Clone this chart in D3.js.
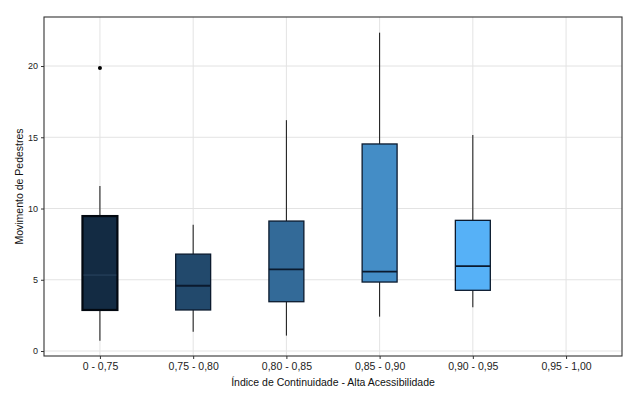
<!DOCTYPE html>
<html>
<head>
<meta charset="utf-8">
<script src="https://cdn.jsdelivr.net/npm/d3@7"></script>
<style>
  body { margin: 0; background: #fff; }
  text { font-family: "Liberation Sans", Arial, sans-serif; }
</style>
</head>
<body>
<script>
const CATEGORIES = ["0 - 0,75", "0,75 - 0,80", "0,80 - 0,85", "0,85 - 0,90", "0,90 - 0,95", "0,95 - 1,00"];
// five-number summaries per category (last one is empty)
const LOWER = [0.72, 1.35, 1.08, 2.41, 3.07];
const Q1 = [2.88, 2.88, 3.46, 4.84, 4.26];
const MEDIAN = [5.33, 4.58, 5.73, 5.57, 5.96];
const Q3 = [9.47, 6.8, 9.12, 14.53, 9.17];
const UPPER = [11.58, 8.86, 16.2, 22.34, 15.16];
const OUTLIERS = [[0, 19.86]];
const Y_TICKS = [0, 5, 10, 15, 20];

const width = 640,
  height = 399,
  margin = { left: 44, right: 18, top: 17, bottom: 43 };

const svg = d3
  .select("body")
  .append("svg")
  .attr("width", width)
  .attr("height", height);

const x = d3
  .scalePoint()
  .domain(CATEGORIES)
  .range([margin.left, width - margin.right])
  .padding(0.6);

const y = d3
  .scaleLinear()
  .domain([-0.35, 23.44])
  .range([height - margin.bottom, margin.top]);

const step = x.step();
const boxW = step * 0.375;

const fill = d3.scaleLinear()
  .domain([0, 4])
  .range(["#132B43", "#56B1F7"])
  .interpolate(d3.interpolateLab);

// grid
const grid = svg.append("g");
grid.selectAll("line.h")
  .data(Y_TICKS)
  .join("line")
  .attr("x1", margin.left)
  .attr("x2", width - margin.right)
  .attr("y1", d => y(d))
  .attr("y2", d => y(d))
  .attr("stroke", "#e3e3e3")
  .attr("stroke-width", 1);
grid.selectAll("line.v")
  .data(CATEGORIES)
  .join("line")
  .attr("x1", d => x(d))
  .attr("x2", d => x(d))
  .attr("y1", margin.top)
  .attr("y2", height - margin.bottom)
  .attr("stroke", "#e3e3e3")
  .attr("stroke-width", 1);

const boxes = CATEGORIES.slice(0, 5).map((c, i) => ({
  cat: c, i, lo: LOWER[i], q1: Q1[i], med: MEDIAN[i], q3: Q3[i], hi: UPPER[i]
}));

const g = svg.selectAll("g.box").data(boxes).join("g");

g.append("line")
  .attr("x1", d => x(d.cat))
  .attr("x2", d => x(d.cat))
  .attr("y1", d => y(d.hi))
  .attr("y2", d => y(d.q3))
  .attr("stroke", "#111");
g.append("line")
  .attr("x1", d => x(d.cat))
  .attr("x2", d => x(d.cat))
  .attr("y1", d => y(d.q1))
  .attr("y2", d => y(d.lo))
  .attr("stroke", "#111");

g.append("rect")
  .attr("x", d => x(d.cat) - boxW / 2)
  .attr("width", boxW)
  .attr("y", d => y(d.q3))
  .attr("height", d => y(d.q1) - y(d.q3))
  .attr("fill", d => fill(d.i))
  .attr("stroke", d => (d.i === 0 ? "#020810" : "#0b1a2e"))
  .attr("stroke-width", d => (d.i === 0 ? 2.2 : 1.3));

g.append("line")
  .attr("x1", d => x(d.cat) - boxW / 2 + (d.i === 0 ? 1 : 0))
  .attr("x2", d => x(d.cat) + boxW / 2 - (d.i === 0 ? 1 : 0))
  .attr("y1", d => y(d.med))
  .attr("y2", d => y(d.med))
  .attr("stroke", d => (d.i === 0 ? "#2b4562" : "#0b1a2e"))
  .attr("stroke-width", d => (d.i === 0 ? 1 : 1.8));

svg.selectAll("circle.out")
  .data(OUTLIERS)
  .join("circle")
  .attr("cx", d => x(CATEGORIES[d[0]]))
  .attr("cy", d => y(d[1]))
  .attr("r", 2)
  .attr("fill", "#000");

// panel border
svg.append("rect")
  .attr("x", margin.left)
  .attr("y", margin.top)
  .attr("width", width - margin.left - margin.right)
  .attr("height", height - margin.top - margin.bottom)
  .attr("fill", "none")
  .attr("stroke", "#333")
  .attr("stroke-width", 1.1);

const xAxis = d3.axisBottom(x).tickSize(3).tickSizeOuter(0).tickPadding(4);
svg.append("g")
  .attr("transform", `translate(0, ${height - margin.bottom})`)
  .call(xAxis)
  .call(a => a.select(".domain").remove())
  .call(a => a.selectAll(".tick line").attr("stroke", "#333"))
  .call(a => a.selectAll(".tick text").attr("fill", "#222").style("font-size", "10.5px"));

const yAxis = d3.axisLeft(y).tickValues(Y_TICKS).tickSize(3).tickSizeOuter(0).tickPadding(3);
svg.append("g")
  .attr("transform", `translate(${margin.left}, 0)`)
  .call(yAxis)
  .call(a => a.select(".domain").remove())
  .call(a => a.selectAll(".tick line").attr("stroke", "#333"))
  .call(a => a.selectAll(".tick text").attr("fill", "#222").style("font-size", "9px"));

svg.append("text")
  .attr("x", (margin.left + width - margin.right) / 2)
  .attr("y", 386)
  .attr("text-anchor", "middle")
  .style("font-size", "10.5px")
  .attr("fill", "#111")
  .text("Índice de Continuidade - Alta Acessibilidade");

svg.append("text")
  .attr("transform", `translate(23, ${(margin.top + height - margin.bottom) / 2}) rotate(-90)`)
  .attr("text-anchor", "middle")
  .style("font-size", "10.5px")
  .attr("fill", "#111")
  .text("Movimento de Pedestres");
</script>
</body>
</html>
